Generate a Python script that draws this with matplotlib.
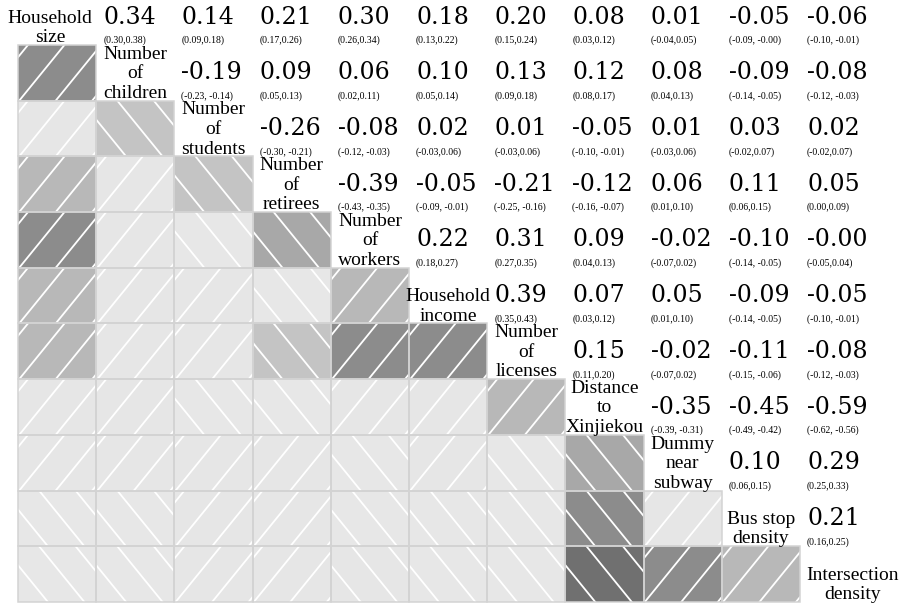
import numpy as np
import matplotlib
matplotlib.use("Agg")
import matplotlib.pyplot as plt
from matplotlib.patches import Rectangle
from matplotlib.lines import Line2D

# Variable names shown on the diagonal
labels = ["Household\nsize", "Number\nof\nchildren", "Number\nof\nstudents",
          "Number\nof\nretirees", "Number\nof\nworkers", "Household\nincome",
          "Number\nof\nlicenses", "Distance\nto\nXinjiekou", "Dummy\nnear\nsubway",
          "Bus stop\ndensity", "Intersection\ndensity"]

# Correlations of each variable with the variables after it (upper triangle)
corr_size      = [0.34, 0.14, 0.21, 0.30, 0.18, 0.20, 0.08, 0.01, -0.05, -0.06]
corr_children  = [-0.19, 0.09, 0.06, 0.10, 0.13, 0.12, 0.08, -0.09, -0.08]
corr_students  = [-0.26, -0.08, 0.02, 0.01, -0.05, 0.01, 0.03, 0.02]
corr_retirees  = [-0.39, -0.05, -0.21, -0.12, 0.06, 0.11, 0.05]
corr_workers   = [0.22, 0.31, 0.09, -0.02, -0.10, -0.00]
corr_income    = [0.39, 0.07, 0.05, -0.09, -0.05]
corr_licenses  = [0.15, -0.02, -0.11, -0.08]
corr_distance  = [-0.35, -0.45, -0.59]
corr_subway    = [0.10, 0.29]
corr_busstop   = [0.21]

# 95% confidence bounds, same layout
lo_size      = [0.30, 0.09, 0.17, 0.26, 0.13, 0.15, 0.03, -0.04, -0.09, -0.10]
hi_size      = [0.38, 0.18, 0.26, 0.34, 0.22, 0.24, 0.12, 0.05, -0.00, -0.01]
lo_children  = [-0.23, 0.05, 0.02, 0.05, 0.09, 0.08, 0.04, -0.14, -0.12]
hi_children  = [-0.14, 0.13, 0.11, 0.14, 0.18, 0.17, 0.13, -0.05, -0.03]
lo_students  = [-0.30, -0.12, -0.03, -0.03, -0.10, -0.03, -0.02, -0.02]
hi_students  = [-0.21, -0.03, 0.06, 0.06, -0.01, 0.06, 0.07, 0.07]
lo_retirees  = [-0.43, -0.09, -0.25, -0.16, 0.01, 0.06, 0.00]
hi_retirees  = [-0.35, -0.01, -0.16, -0.07, 0.10, 0.15, 0.09]
lo_workers   = [0.18, 0.27, 0.04, -0.07, -0.14, -0.05]
hi_workers   = [0.27, 0.35, 0.13, 0.02, -0.05, 0.04]
lo_income    = [0.35, 0.03, 0.01, -0.14, -0.10]
hi_income    = [0.43, 0.12, 0.10, -0.05, -0.01]
lo_licenses  = [0.11, -0.07, -0.15, -0.12]
hi_licenses  = [0.20, 0.02, -0.06, -0.03]
lo_distance  = [-0.39, -0.49, -0.62]
hi_distance  = [-0.31, -0.42, -0.56]
lo_subway    = [0.06, 0.25]
hi_subway    = [0.15, 0.33]
lo_busstop   = [0.16]
hi_busstop   = [0.25]

corr_rows = [corr_size, corr_children, corr_students, corr_retirees, corr_workers,
             corr_income, corr_licenses, corr_distance, corr_subway, corr_busstop]
lo_rows = [lo_size, lo_children, lo_students, lo_retirees, lo_workers,
           lo_income, lo_licenses, lo_distance, lo_subway, lo_busstop]
hi_rows = [hi_size, hi_children, hi_students, hi_retirees, hi_workers,
           hi_income, hi_licenses, hi_distance, hi_subway, hi_busstop]

n = len(labels)
R = np.full((n, n), np.nan)
LO = np.full((n, n), np.nan)
HI = np.full((n, n), np.nan)
for i, (cr, lr, hr) in enumerate(zip(corr_rows, lo_rows, hi_rows)):
    for k, (v, lo, hi) in enumerate(zip(cr, lr, hr)):
        j = i + 1 + k
        R[i, j] = R[j, i] = v
        LO[i, j], HI[i, j] = lo, hi

# Shading palette: 14 bins over [-1, 1]
palette = ["#262626", "#474747", "#707070", "#8c8c8c", "#a8a8a8", "#c4c4c4", "#e7e7e7",
           "#e6e6e6", "#b8b8b8", "#8c8c8c", "#606060", "#404040", "#262626", "#101010"]


def shade_color(v):
    idx = int(np.clip(np.floor((v + 1) / (2 / 14) + 1e-9), 0, 13))
    return palette[idx]


# Figure geometry (cell units)
col_px, row_px = 78.2, 55.7
W, H, dpi = 901, 604, 100
fig = plt.figure(figsize=(W / dpi, H / dpi), dpi=dpi)
ax = fig.add_axes([0, 0, 1, 1])
ax.set_xlim(-18 / col_px, (W - 18) / col_px)
ax.set_ylim((H + 10.7) / row_px, 10.7 / row_px)
ax.axis("off")

slope = 1.23 * col_px / row_px      # steepness of hatch lines in cell units
spacing = 36.5 / col_px             # horizontal gap between hatch lines

value_font = dict(family="DejaVu Serif", size=17)
ci_font = dict(family="Liberation Serif", size=7)
label_font = dict(family="Liberation Serif", size=14)

# small horizontal nudges so the outer labels sit like the inner ones
label_dx = {0: -0.09, n - 1: 0.17}

for i in range(n):
    for j in range(n):
        if j < i:
            v = R[i, j]
            x0, y0 = j, i
            fill = Rectangle((x0, y0), 1, 1, facecolor=shade_color(v),
                             edgecolor="none", zorder=1)
            ax.add_patch(fill)
            for k in range(-4, 5):
                if v > 0 or (v == 0 and not np.signbit(v)):
                    xs = x0 + 0.015 + k * spacing
                    line = Line2D([xs, xs + 1 / slope], [y0 + 1, y0],
                                  color="white", lw=1.3, zorder=2)
                else:
                    xs = x0 + 0.27 + k * spacing
                    line = Line2D([xs, xs + 1 / slope], [y0, y0 + 1],
                                  color="white", lw=1.3, zorder=2)
                ax.add_line(line)
                line.set_clip_path(fill)
            ax.add_patch(Rectangle((x0, y0), 1, 1, facecolor="none",
                                   edgecolor="#d3d3d3", lw=1.1, zorder=3))
        elif j > i:
            v = R[i, j]
            ax.text(j + 0.09, i + 0.5, f"{v:.2f}", ha="left", va="center",
                    color="black", **value_font)
            lo_s, hi_s = f"{LO[i, j]:.2f}", f"{HI[i, j]:.2f}"
            sep = ", " if hi_s.startswith("-") else ","
            ax.text(j + 0.09, i + 0.92, f"({lo_s}{sep}{hi_s})", ha="left",
                    va="center", color="black", **ci_font)
        else:
            ax.text(j + 0.5 + label_dx.get(i, 0.0), i + 1.02, labels[i],
                    ha="center", va="bottom", multialignment="center",
                    linespacing=1.2, color="black", zorder=4, **label_font)

fig.savefig("out.png", dpi=dpi)
